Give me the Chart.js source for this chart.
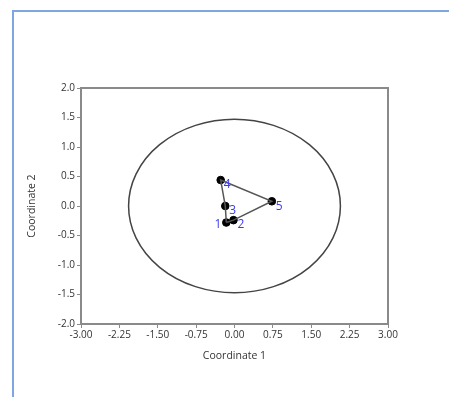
<!DOCTYPE html>
<html>
<head>
<meta charset="UTF-8">
<title>Coordinate plot</title>
<script src="https://cdn.jsdelivr.net/npm/chart.js@4.4.1/dist/chart.umd.min.js"></script>
<style>
    html, body { margin: 0; padding: 0; background: #fff; overflow: hidden; }
    .frame {
        position: absolute;
        left: 12px; top: 10px;
        width: 600px; height: 600px;
        border-top: 2px solid #7ea6e0;
        border-left: 2px solid #7ea6e0;
    }
    #chart { position: absolute; left: 0; top: 0; }
</style>
</head>
<body>
<div class="frame"></div>
<canvas id="chart" width="449" height="397"></canvas>
<script>
// point data
const pointLabels = ['1', '2', '3', '4', '5'];
const coord1 = [-0.16, -0.02, -0.18, -0.27, 0.73];
const coord2 = [-0.28, -0.24, 0.00, 0.44, 0.08];
// outline through the points (indices)
const hullOrder = [0, 2, 3, 4, 1, 0];
// ellipse: centre and radii in data units
const ellipseCenter = [0, 0];
const ellipseRadii = [2.07, 1.47];
// axes
const xTicks = [-3, -2.25, -1.5, -0.75, 0, 0.75, 1.5, 2.25, 3];
const yTicks = [-2, -1.5, -1, -0.5, 0, 0.5, 1, 1.5, 2];

const labelPos = {
    '1': { dx: -5, dy: 2, align: 'right' },
    '2': { dx: 4, dy: 4, align: 'left' },
    '3': { dx: 4, dy: 5, align: 'left' },
    '4': { dx: 3, dy: 5, align: 'left' },
    '5': { dx: 4, dy: 5, align: 'left' }
};

const pts = coord1.map((x, i) => ({ x: x, y: coord2[i] }));
const hullPts = hullOrder.map(i => pts[i]);

const framePlugin = {
    id: 'frame',
    beforeDatasetsDraw(chart) {
        const { ctx, scales } = chart;
        const sx = scales.x, sy = scales.y;
        const cx = sx.getPixelForValue(ellipseCenter[0]);
        const cy = sy.getPixelForValue(ellipseCenter[1]);
        const rx = sx.getPixelForValue(ellipseCenter[0] + ellipseRadii[0]) - cx;
        const ry = cy - sy.getPixelForValue(ellipseCenter[1] + ellipseRadii[1]);
        ctx.save();
        ctx.strokeStyle = '#444';
        ctx.lineWidth = 1.5;
        ctx.beginPath();
        ctx.ellipse(cx, cy, rx, ry, 0, 0, Math.PI * 2);
        ctx.stroke();
        ctx.restore();
    },
    afterDraw(chart) {
        const { ctx, chartArea: a } = chart;
        ctx.save();
        ctx.strokeStyle = '#8a8a8a';
        ctx.lineWidth = 2;
        ctx.strokeRect(a.left, a.top, a.right - a.left, a.bottom - a.top);
        // point labels
        const meta = chart.getDatasetMeta(1);
        ctx.fillStyle = '#3a3aee';
        ctx.font = '12px "Open Sans"';
        ctx.textBaseline = 'middle';
        meta.data.forEach((el, i) => {
            const p = labelPos[pointLabels[i]];
            ctx.textAlign = p.align;
            ctx.fillText(pointLabels[i], el.x + p.dx, el.y + p.dy);
        });
        ctx.restore();
    }
};

const tickFont = { family: '"Open Sans"', size: 10 };

new Chart(document.getElementById('chart'), {
    type: 'scatter',
    data: {
        datasets: [
            {
                data: hullPts,
                showLine: true,
                borderColor: '#555',
                borderWidth: 1.5,
                pointRadius: 0,
                fill: false
            },
            {
                data: pts,
                pointRadius: 3.8,
                pointBackgroundColor: '#000',
                pointBorderColor: '#000',
                showLine: false
            }
        ]
    },
    options: {
        responsive: false,
        animation: false,
        layout: { padding: { left: 22, top: 88, right: 61, bottom: 31 } },
        plugins: { legend: { display: false }, tooltip: { enabled: false } },
        scales: {
            x: {
                type: 'linear',
                min: -3, max: 3,
                afterBuildTicks: s => { s.ticks = xTicks.map(v => ({ value: v })); },
                afterFit: s => { s.height = 42; },
                ticks: { color: '#333', font: tickFont, padding: 1, maxRotation: 0,
                         callback: v => v.toFixed(2) },
                grid: { drawOnChartArea: false, tickLength: 4, color: '#8a8a8a' },
                border: { color: '#8a8a8a', width: 2 },
                title: { display: true, text: 'Coordinate 1', color: '#333',
                         font: { family: '"Open Sans"', size: 10.5 }, padding: { top: 6 } }
            },
            y: {
                type: 'linear',
                min: -2, max: 2,
                afterBuildTicks: s => { s.ticks = yTicks.map(v => ({ value: v })); },
                afterFit: s => { s.width = 59; },
                ticks: { color: '#333', font: tickFont, padding: 2,
                         callback: v => v.toFixed(1) },
                grid: { drawOnChartArea: false, tickLength: 4, color: '#8a8a8a' },
                border: { color: '#8a8a8a', width: 2 },
                title: { display: true, text: 'Coordinate 2', color: '#333',
                         font: { family: '"Open Sans"', size: 10.5 } }
            }
        }
    },
    plugins: [framePlugin]
});
</script>
</body>
</html>
